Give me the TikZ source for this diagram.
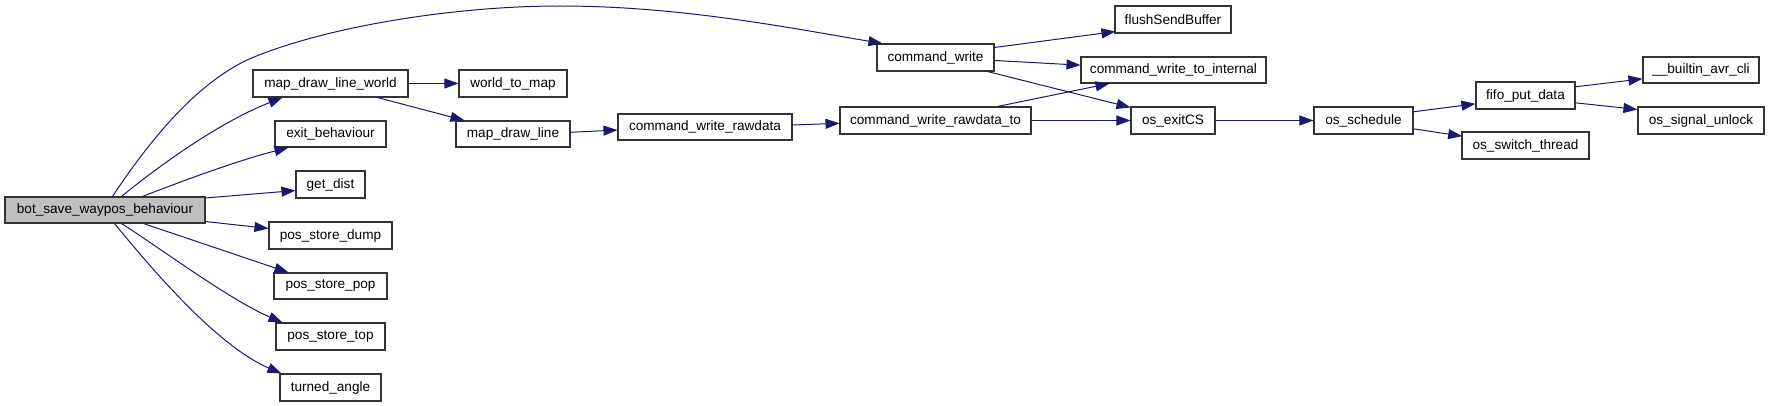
\documentclass[tikz,border=0pt]{standalone}
\usepackage{fontspec}
\setmainfont{Liberation Sans}
\usetikzlibrary{arrows.meta,calc}
\definecolor{edgecol}{HTML}{191970}
\definecolor{botfill}{HTML}{BFBFBF}
\definecolor{boxline}{HTML}{333333}
\newcommand\mkbox[7][]{%
  \node[fnbox,#1,minimum width={(#5-#3)*0.75pt},minimum height={(#6-#4)*0.75pt}]
    (#2) at ({(#3+#5)/2},{(#4+#6)/2}) {#7};}
\tikzset{
  fnbox/.style={draw=boxline, line width=0.8pt, fill=white, rectangle, inner sep=0pt,
    font=\fontsize{10.2pt}{12pt}\selectfont},
  edge/.style={draw=edgecol, line width=0.75pt,
    -{Triangle[length=10.5pt,width=7.5pt]}, color=edgecol},
}
\begin{document}
\begin{tikzpicture}[x=0.75pt,y=-0.75pt]
\useasboundingbox (0,0) rectangle (1771,406);
% nodes
\mkbox[fill=botfill]{bot}{5}{197}{205}{223}{bot\_save\_waypos\_behaviour}
\mkbox{cmdw}{877}{44}{994}{71}{command\_write}
\mkbox{mdlw}{253}{70}{408}{97}{map\_draw\_line\_world}
\mkbox{wtm}{459}{70}{567}{97}{world\_to\_map}
\mkbox{exitb}{275}{121}{386}{147}{exit\_behaviour}
\mkbox{getd}{296}{171}{365}{198}{get\_dist}
\mkbox{psd}{269}{222}{392}{249}{pos\_store\_dump}
\mkbox{psp}{274}{273}{387}{299}{pos\_store\_pop}
\mkbox{pst}{276}{323}{385}{350}{pos\_store\_top}
\mkbox{ta}{280}{374}{381}{401}{turned\_angle}
\mkbox{mdl}{456}{121}{570}{147}{map\_draw\_line}
\mkbox{cwr}{618}{114}{792}{140}{command\_write\_rawdata}
\mkbox{cwrt}{840}{107}{1031}{134}{command\_write\_rawdata\_to}
\mkbox{fsb}{1115}{6}{1231}{33}{flushSendBuffer}
\mkbox{cwti}{1081}{57}{1266}{83}{command\_write\_to\_internal}
\mkbox{oscs}{1131}{107}{1215}{134}{os\_exitCS}
\mkbox{ossch}{1314}{107}{1413}{134}{os\_schedule}
\mkbox{fifo}{1476}{82}{1575}{109}{fifo\_put\_data}
\mkbox{osst}{1462}{132}{1589}{159}{os\_switch\_thread}
\mkbox{bac}{1643}{57}{1759}{83}{\_\_builtin\_avr\_cli}
\mkbox{osu}{1638}{107}{1764}{134}{os\_signal\_unlock}
% edges from bot
\draw[edge] ($(bot.north west)+(108,0)$) .. controls (150,140) and (195,85) .. (247,60)
  .. controls (320,28) and (450,6) .. (560,6)
  .. controls (680,6) and (790,28) .. ($(cmdw.north west)+(6,0)$);
\draw[edge] ($(bot.north west)+(117,0)$) .. controls (160,165) and (220,122) .. ($(mdlw.south west)+(30,0)$);
\draw[edge] ($(bot.north west)+(138,0)$) .. controls (190,178) and (240,160) .. ($(exitb.south west)+(14,0)$);
\draw[edge] ($(bot.north east)+(0,1.5)$) -- ($(getd.south west)+(0,-8)$);
\draw[edge] ($(bot.south east)+(0,-2)$) -- ($(psd.north west)+(0,7)$);
\draw[edge] ($(bot.south west)+(139,0)$) -- ($(psp.north west)+(15,0)$);
\draw[edge] ($(bot.south west)+(117,0)$) .. controls (160,248) and (230,300) .. ($(pst.north west)+(7,0)$);
\draw[edge] ($(bot.south west)+(110,0)$) .. controls (147,263) and (215,345) .. ($(ta.north west)+(2,0)$);
% map chain
\draw[edge] (mdlw.east) -- (wtm.west);
\draw[edge] ($(mdlw.south west)+(125,0)$) -- ($(mdl.north west)+(9,0)$);
\draw[edge] ($(mdl.east)+(0,-1.7)$) -- ($(cwr.west)+(0,3)$);
\draw[edge] ($(cwr.east)+(0,-2)$) -- ($(cwrt.west)+(0,2.8)$);
\draw[edge] ($(cwrt.north west)+(158,0)$) -- ($(cwti.south west)+(29,0)$);
\draw[edge] (cwrt.east) -- (oscs.west);
% command_write
\draw[edge] ($(cmdw.north east)+(0,4)$) -- ($(fsb.south west)+(1,-2)$);
\draw[edge] ($(cmdw.north east)+(0,17)$) -- ($(cwti.north west)+(0,8.7)$);
\draw[edge] ($(cmdw.south east)+(-7,0)$) -- ($(oscs.north west)+(0,1)$);
% scheduler
\draw[edge] (oscs.east) -- (ossch.west);
\draw[edge] ($(ossch.north east)+(0,5.3)$) -- ($(fifo.south west)+(0,-5.7)$);
\draw[edge] ($(ossch.south east)+(0,-5.7)$) -- ($(osst.north west)+(0.7,4.7)$);
\draw[edge] ($(fifo.north east)+(0,5.3)$) -- ($(bac.south west)+(0,-4.7)$);
\draw[edge] ($(fifo.south east)+(0,-6.7)$) -- ($(osu.north west)+(0,3)$);
\end{tikzpicture}
\end{document}
